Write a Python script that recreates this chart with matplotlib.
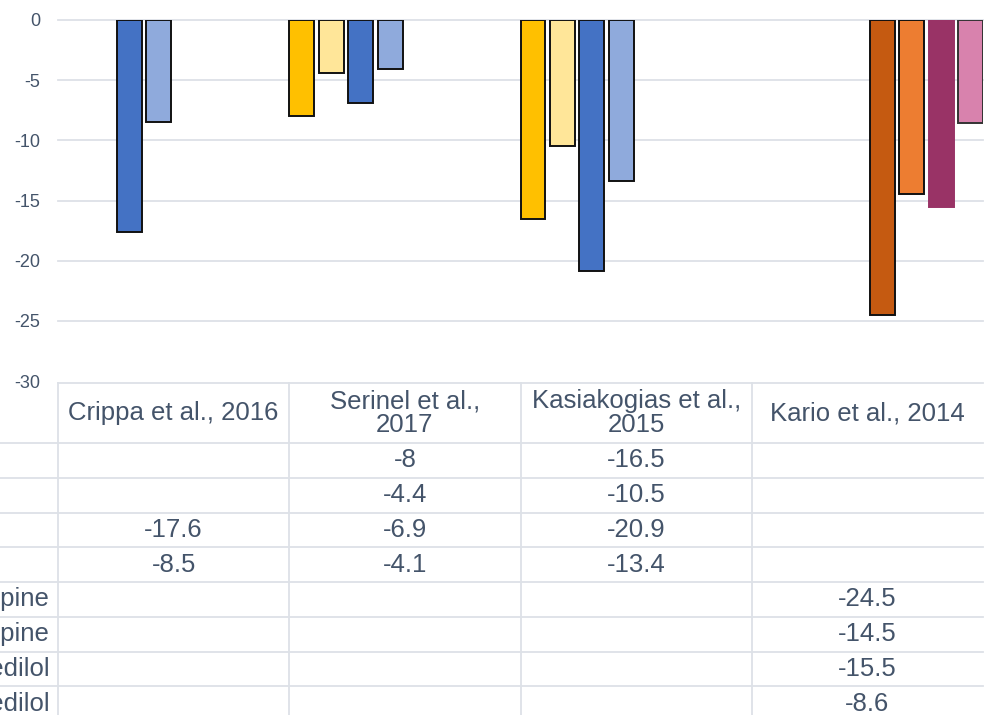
import matplotlib
matplotlib.use("Agg")
import matplotlib.pyplot as plt

plt.rcParams['font.family'] = ['Liberation Sans', 'DejaVu Sans']

# studies (x categories) and series (table rows)
studies = ["Crippa et al., 2016", "Serinel et al.,\n2017",
           "Kasiakogias et al.,\n2015", "Kario et al., 2014"]
series_names = ["", "", "", "", "Nifedipine", "Nifedipine",
                "Carvedilol", "Carvedilol"]
s1 = [None, -8, -16.5, None]
s2 = [None, -4.4, -10.5, None]
s3 = [-17.6, -6.9, -20.9, None]
s4 = [-8.5, -4.1, -13.4, None]
s5 = [None, None, None, -24.5]
s6 = [None, None, None, -14.5]
s7 = [None, None, None, -15.5]
s8 = [None, None, None, -8.6]
values = [s1, s2, s3, s4, s5, s6, s7, s8]

colors = ["#FFC000", "#FFE699", "#4472C4", "#8FAADC",
          "#C55A11", "#ED7D31", "#993366", "#D882AD"]
edges = ["#111111", "#111111", "#111111", "#111111",
         "#111111", "#111111", "#993366", "#333333"]
yticks = [0, -5, -10, -15, -20, -25, -30]

txt = "#44546A"
grid = "#DDE1E7"

W, H = 984, 715
fig = plt.figure(figsize=(W / 100, H / 100), dpi=100)

left_px, right_px = 58, 983
top_px, bot_px = 20, 381
ax = fig.add_axes([left_px / W, 1 - bot_px / H,
                   (right_px - left_px) / W, (bot_px - top_px) / H])
ax.set_xlim(-0.5, 3.5)
ax.set_ylim(-30, 0)

step = 0.1275
bw = 0.108
for i, vals in enumerate(values):
    for j, v in enumerate(vals):
        if v is None:
            continue
        ax.bar(j - 0.5 + i * step, v, width=bw, align='edge',
               color=colors[i], edgecolor=edges[i], linewidth=1.4, zorder=3)

for yv in yticks[:-1]:
    ax.axhline(yv, color=grid, lw=1.3, zorder=1, clip_on=False)
ax.set_yticks(yticks)
ax.set_yticklabels([str(t) for t in yticks])
ax.tick_params(axis='y', length=0, pad=13, labelsize=13, labelcolor=txt)
ax.set_xticks([])
for sp in ax.spines.values():
    sp.set_visible(False)

# data table below the plot
tab_top = 383
tab = fig.add_axes([left_px / W, 0, (right_px - left_px) / W, (H - tab_top) / H])
tab.set_xlim(-0.5, 3.5)
tab.set_ylim(H - tab_top, 0)
tab.axis('off')

head_h = 60
row_h = 34.75
lw = 1.3
# header top line and column separators (right edge is cropped away)
tab.plot([-0.5, 3.5], [0, 0], color=grid, lw=lw, clip_on=False)
for k in range(4):
    tab.plot([k - 0.5, k - 0.5], [0, H], color=grid, lw=lw, clip_on=False)
for r in range(len(values) + 1):
    y = head_h + r * row_h
    tab.plot([-0.75, 3.5], [y, y], color=grid, lw=lw, clip_on=False)

for j, s in enumerate(studies):
    tab.text(j, head_h / 2, s, ha='center', va='center', fontsize=18.5,
             color=txt, linespacing=0.95)

# row labels run off the left edge, as in the cropped original
for i, vals in enumerate(values):
    yc = head_h + (i + 0.5) * row_h
    tab.text(-0.535, yc, series_names[i], ha='right', va='center',
             fontsize=18.5, color=txt, clip_on=False)
    for j, v in enumerate(vals):
        if v is None:
            continue
        tab.text(j, yc, f"{v:g}", ha='center', va='center',
                 fontsize=18.5, color=txt)

fig.savefig("out.png", dpi=100)
